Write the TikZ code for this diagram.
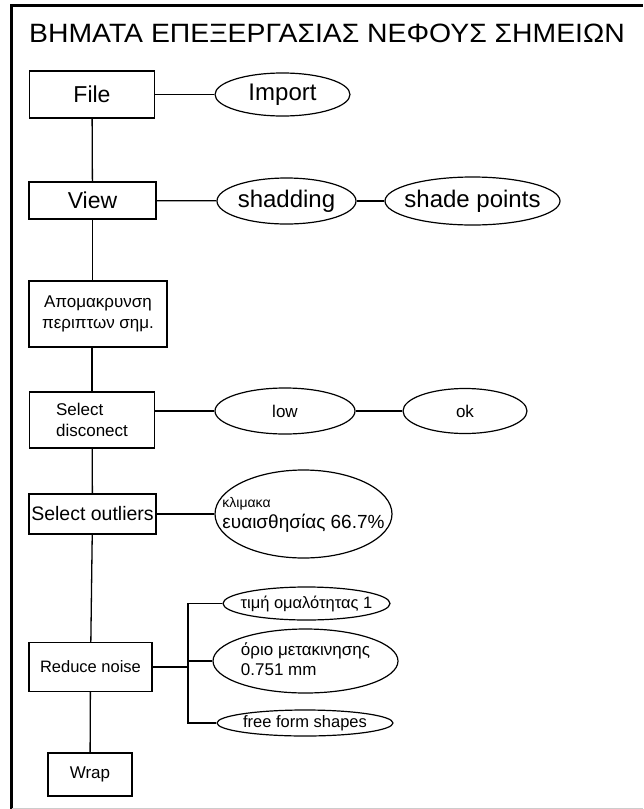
\documentclass[tikz,border=0pt]{standalone}
\usepackage{fontspec}
\setmainfont{Liberation Sans}
\usepackage{graphicx}
\usepackage{tikz}
\usetikzlibrary{shapes.geometric, positioning, calc}

% text that may run past the outline of an oval
\newcommand{\inoval}[1]{\makebox[0pt]{#1}}

\begin{document}
\begin{tikzpicture}[x=1pt, y=-1pt,
        stepbox/.style={rectangle, draw=black, line width=1.4pt, inner sep=0pt, font=\fontsize{17}{21}\selectfont, align=center},
        oval/.style={ellipse, draw=black, line width=1.2pt, inner sep=0pt, font=\fontsize{17}{20}\selectfont},
        link/.style={draw=black, line width=1.3pt},
        frame/.style={draw=black, line width=3pt}
    ]
        \useasboundingbox (0,0) rectangle (643,809);

        % Frame and title
        \draw[frame] (11.5,809) -- (11.5,5.5) -- (643,5.5);
        \draw[gray!40, line width=1pt] (11.5,808) -- (643,808);
        \node[anchor=base west, inner sep=0pt, font=\fontsize{26.5}{30}\selectfont] (title) at (29,42) {\scalebox{1.07}[1]{ΒΗΜΑΤΑ ΕΠΕΞΕΡΓΑΣΙΑΣ ΝΕΦΟΥΣ ΣΗΜΕΙΩΝ}};

        % Steps
        \node[stepbox, minimum width=125, minimum height=47, font=\fontsize{23}{26}\selectfont] (file) at (92, 94.5) {File};
        \node[stepbox, minimum width=127, minimum height=37, font=\fontsize{23}{26}\selectfont] (view) at (92.5, 200.5) {View};
        \node[stepbox, minimum width=138, minimum height=66] (remove) at (98, 314) {Απομακρυνση\\περιπτων σημ.};
        \node[stepbox, minimum width=125, minimum height=56, align=left] (disc) at (92, 420) {Select\\disconect};
        \node[stepbox, minimum width=127, minimum height=40, font=\fontsize{19.5}{22}\selectfont] (outliers) at (92.5, 514) {Select outliers};
        \node[stepbox, minimum width=123, minimum height=49, font=\fontsize{16.5}{20}\selectfont] (noise) at (90.5, 667) {Reduce noise};
        \node[stepbox, minimum width=84, minimum height=43] (wrap) at (90, 774.5) {Wrap};

        % Options
        \node[oval, minimum width=135, minimum height=43, font=\fontsize{24}{28}\selectfont] (import) at (282.5, 94.5) {Import};
        \node[oval, minimum width=139, minimum height=46, font=\fontsize{24}{28}\selectfont] (shading) at (286.5, 201) {\inoval{shadding}};
        \node[oval, minimum width=175, minimum height=48, font=\fontsize{24}{28}\selectfont] (shadepts) at (472.5, 201) {\inoval{shade points}};
        \node[oval, minimum width=140, minimum height=46] (low) at (285, 411) {low};
        \node[oval, minimum width=124, minimum height=45] (ok) at (465, 411) {ok};
        \node[oval, minimum width=177, minimum height=88] (scale) at (303.5, 514) {\inoval{\begin{tabular}{@{}l@{}}{\fontsize{14}{16}\selectfont κλιμακα}\\{\fontsize{19}{21}\selectfont ευαισθησίας 66.7\%}\end{tabular}}};
        \node[oval, minimum width=167, minimum height=33, font=\fontsize{16.5}{19}\selectfont] (smooth) at (306.5, 603.5) {\inoval{τιμή ομαλότητας 1}};
        \node[oval, minimum width=185, minimum height=64] (limit) at (305.5, 661) {\inoval{\begin{tabular}{@{}l@{}}όριο μετακινησης\\0.751 mm\end{tabular}}};
        \node[oval, minimum width=176, minimum height=26, font=\fontsize{16.5}{19}\selectfont] (freeform) at (305, 723) {\inoval{free form shapes}};
        \coordinate (fork) at (188, 667);

        % Main line
        \draw[link] (file) -- (view);
        \draw[link] (view.south) -- (view.south |- remove.north);
        \draw[link] (disc.north |- remove.south) -- (disc.north);
        \draw[link] (disc) -- (outliers);
        \draw[link] (outliers) -- (noise);
        \draw[link] (noise) -- (wrap);

        % Side links
        \draw[link] (file) -- (import);
        \draw[link] (view) -- (shading);
        \draw[link] (shading) -- (shadepts);
        \draw[link] (disc.east |- low.west) -- (low.west);
        \draw[link] (low) -- (ok);
        \draw[link] (outliers) -- (scale);
        \draw[link] (noise) -- (fork);
        \draw[link] (smooth.west) -| (fork) |- (freeform.west);
        \draw[link] (fork |- limit.west) -- (limit.west);

    \end{tikzpicture}
\end{document}
